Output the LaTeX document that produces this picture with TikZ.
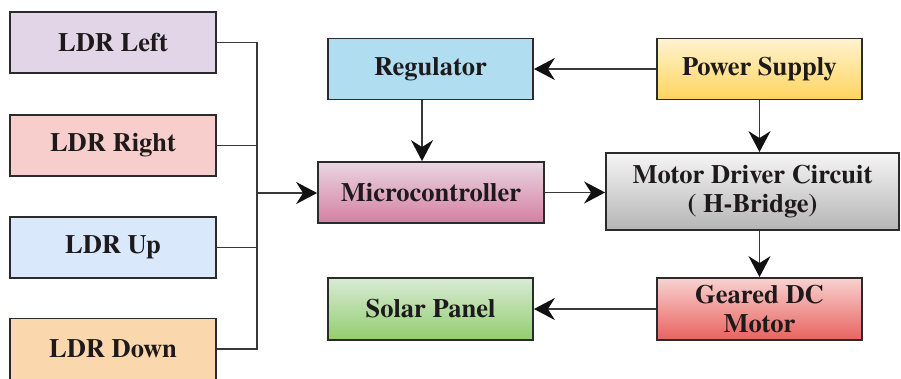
\documentclass[tikz,border=0pt]{standalone}
\usepackage{fontspec}
\newfontfamily\boxfont{texgyretermes-bold.otf}
\usetikzlibrary{arrows.meta}

\definecolor{edgecol}{HTML}{2B2B2B}
\definecolor{linecol}{HTML}{383838}
\definecolor{headcol}{HTML}{111111}
\definecolor{txtcol}{HTML}{1E1A1C}
\definecolor{cLeft}{HTML}{E1D5E7}
\definecolor{cRight}{HTML}{F8CECC}
\definecolor{cUp}{HTML}{DAE8FC}
\definecolor{cDown}{HTML}{FAD7AC}
\definecolor{cReg}{HTML}{B1DDF0}
\definecolor{cMcuTop}{HTML}{E9D6E1}
\definecolor{cMcuBot}{HTML}{D57FA2}
\definecolor{cPsuTop}{HTML}{FFF3CF}
\definecolor{cPsuBot}{HTML}{FFD45E}
\definecolor{cDrvTop}{HTML}{F5F5F5}
\definecolor{cDrvBot}{HTML}{B5B5B5}
\definecolor{cMotTop}{HTML}{F8D2D0}
\definecolor{cMotBot}{HTML}{E8625E}
\definecolor{cSolTop}{HTML}{D8EBD5}
\definecolor{cSolBot}{HTML}{92CD6E}

\tikzset{
  blk/.style={draw=edgecol, line width=1.8pt, minimum width=205pt, minimum height=61pt,
    inner sep=0pt, align=center, text=txtcol,
    font=\fontsize{26.5}{29.5}\boxfont},
  arr/.style={draw=linecol, line width=1.6pt,
    -{Stealth[length=21pt, width=22pt, inset=7pt, color=headcol, fill=headcol]}},
  wire/.style={draw=linecol, line width=1.6pt},
}

\begin{document}
\begin{tikzpicture}[x=1pt, y=-1pt]
  \useasboundingbox[fill=white] (0,0) rectangle (901,378);

  % sensor column
  \node[blk, minimum width=206pt, fill=cLeft]  (left)  at (113,42.5)  {LDR Left};
  \node[blk, minimum width=206pt, fill=cRight] (right) at (113,145.5) {LDR Right};
  \node[blk, minimum width=206pt, fill=cUp]    (up)    at (113,247.5) {LDR Up};
  \node[blk, minimum width=206pt, fill=cDown]  (down)  at (113,349)   {LDR Down};

  % control and drive
  \node[blk, fill=cReg] (reg) at (430.5,69) {Regulator};
  \node[blk, minimum width=226pt, top color=cMcuTop, bottom color=cMcuBot] (mcu) at (431,192.5) {Microcontroller};
  \node[blk, top color=cPsuTop, bottom color=cPsuBot] (psu) at (759.5,69) {Power Supply};
  \node[blk, minimum width=293pt, minimum height=77pt, top color=cDrvTop, bottom color=cDrvBot] (drv) at (752.5,191.5) {Motor Driver Circuit\\( H-Bridge)};
  \node[blk, minimum height=62pt, top color=cMotTop, bottom color=cMotBot] (motor) at (759.5,309) {Geared DC\\Motor};
  \node[blk, minimum height=62pt, top color=cSolTop, bottom color=cSolBot] (solar) at (430.5,309) {Solar Panel};

  % sensor bus
  \coordinate (bus) at (257,193);
  \draw[wire] (left.east) -- (left.east -| bus) -- (down.east -| bus) -- (down.east);
  \draw[wire] (right.east) -- (right.east -| bus);
  \draw[wire] (up.east) -- (up.east -| bus);
  \draw[arr] (bus) -- (mcu.west |- bus);

  % signal flow
  \coordinate (regout) at ([xshift=-8.5pt]reg.south);
  \draw[arr] (psu.west) -- (reg.east);
  \draw[arr] (regout) -- (regout |- mcu.north);
  \draw[arr] (mcu.east) -- (drv.west |- mcu.east);
  \draw[arr] (psu.south) -- (psu.south |- drv.north);
  \draw[arr] (psu.south |- drv.south) -- (motor.north);
  \draw[arr] (motor.west) -- (solar.east);
\end{tikzpicture}
\end{document}
